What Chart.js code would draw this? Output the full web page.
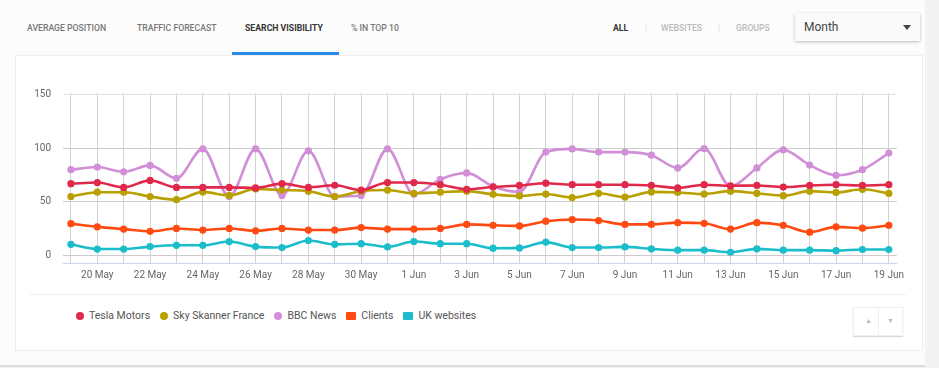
<!DOCTYPE html>
<html lang="en">
<head>
    <meta charset="UTF-8">
    <title>Search Visibility</title>
    <script src="https://cdn.jsdelivr.net/npm/chart.js"></script>
    <style>
        body {
            margin: 0;
            width: 939px;
            height: 368px;
            overflow: hidden;
            font-family: 'Roboto', sans-serif;
            background-color: #f3f3f3;
            position: relative;
        }
        .page {
            position: absolute;
            left: 0; top: 0;
            width: 925px; height: 365px;
            background-color: #fcfcfc;
            border-bottom: 2px solid #dcdcdc;
        }
        .tab {
            position: absolute;
            top: 23px;
            font-size: 8.7px;
            font-weight: 500;
            color: #777;
            white-space: nowrap;
        }
        .tab.active { color: #333; font-weight: 700; }
        .underline {
            position: absolute;
            left: 232px; top: 52px;
            width: 107px; height: 3px;
            background-color: #2a8be6;
        }
        .filter {
            position: absolute;
            top: 23px;
            font-size: 8.7px;
            font-weight: 500;
            color: #bbb;
        }
        .filter.on { color: #333; font-weight: 700; }
        .select {
            position: absolute;
            left: 795px; top: 13px;
            width: 125px; height: 28px;
            background-color: #fafafa;
            box-shadow: 0 1px 3px rgba(0,0,0,0.25);
            font-size: 12px;
            color: #444;
        }
        .select span { position: absolute; left: 9px; top: 7px; }
        .select i {
            position: absolute; right: 9px; top: 12px;
            border-left: 4px solid transparent;
            border-right: 4px solid transparent;
            border-top: 5px solid #444;
        }
        .card {
            position: absolute;
            left: 15px; top: 55px;
            width: 906px; height: 294px;
            background-color: #fff;
            border: 1px solid #eee;
        }
        #chart {
            position: absolute;
            left: 20px; top: 75px;
        }
        .sep {
            position: absolute;
            left: 30px; top: 294px;
            width: 876px; height: 1px;
            background-color: #eee;
        }
        .legend {
            position: absolute;
            left: 76px; top: 309px;
            display: flex;
            align-items: center;
            font-size: 10.5px;
            color: #555;
        }
        .legend .item { display: flex; align-items: center; margin-right: 10px; }
        .legend .mark { width: 8px; height: 8px; border-radius: 50%; margin-right: 5px; }
        .legend .mark.sq { width: 10px; height: 8px; border-radius: 1px; }
        .arrows {
            position: absolute;
            left: 853px; top: 307px;
            width: 48px; height: 27px;
            background-color: #fff;
            border: 1px solid #f0f0f0;
            box-shadow: 0 1px 1px rgba(0,0,0,0.15);
            font-size: 7px;
            color: #bbb;
        }
        .arrows span { position: absolute; top: 9px; }
        .arrows .div { position: absolute; left: 24px; top: 0; width: 1px; height: 27px; background: #f0f0f0; }
    </style>
</head>
<body>
    <div class="page"></div>

    <!-- Tabs -->
    <div class="tab" style="left:27px">AVERAGE POSITION</div>
    <div class="tab" style="left:137px">TRAFFIC FORECAST</div>
    <div class="tab active" style="left:245px">SEARCH VISIBILITY</div>
    <div class="tab" style="left:351px">% IN TOP 10</div>
    <div class="underline"></div>

    <div class="filter on" style="left:613px">ALL</div>
    <div class="filter" style="left:645px;color:#ddd">|</div>
    <div class="filter" style="left:661px">WEBSITES</div>
    <div class="filter" style="left:718px;color:#ddd">|</div>
    <div class="filter" style="left:736px">GROUPS</div>
    <div class="select"><span>Month</span><i></i></div>

    <div class="card"></div>
    <canvas id="chart" width="890" height="213"></canvas>
    <div class="sep"></div>
    <div class="legend" id="legend"></div>
    <div class="arrows"><span style="left:11px">&#9650;</span><div class="div"></div><span style="left:33px">&#9660;</span></div>

    <script>
        // Dates (19 May - 19 Jun)
        const dateLabels = ['19 May', '20 May', '21 May', '22 May', '23 May', '24 May', '25 May', '26 May',
            '27 May', '28 May', '29 May', '30 May', '31 May', '1 Jun', '2 Jun', '3 Jun',
            '4 Jun', '5 Jun', '6 Jun', '7 Jun', '8 Jun', '9 Jun', '10 Jun', '11 Jun',
            '12 Jun', '13 Jun', '14 Jun', '15 Jun', '16 Jun', '17 Jun', '18 Jun', '19 Jun'];

        // Series values
        const teslaMotors = [67, 68, 63.5, 70, 63.5, 63.5, 63.5, 63, 67, 63.5, 65.5, 61, 68, 68, 66, 61.7,
            63.8, 65.3, 67.4, 66, 66, 66, 65.3, 63, 66, 65, 65.3, 63.8, 65.3, 66, 65.3, 66];
        const skySkanner = [55, 59, 59, 55, 52, 59.3, 56, 62, 61, 60, 55, 60, 61, 58, 59, 60,
            57, 55.5, 57.3, 54, 58, 54.5, 59.3, 58.8, 57.3, 60, 58, 55.8, 60, 58.8, 61.7, 57.9];
        const bbcNews = [80, 82.5, 78, 84, 72, 99.4, 55, 99.4, 56, 97.6, 55, 56, 99.4, 57, 71, 77,
            64.4, 59.3, 96.4, 99.4, 96.4, 96.4, 93.5, 81.6, 99.7, 64.7, 81.6, 98.5, 84.3, 74.8, 80, 95.5];
        const clients = [29.7, 26.7, 24.6, 22.5, 25.2, 23.7, 25.2, 23, 25.2, 23.7, 23.7, 26, 24.6, 24.6, 25.2, 29,
            28.2, 27.6, 32, 33.5, 32.6, 29, 29, 30.6, 30, 24.6, 30.6, 28.2, 21.7, 26.7, 25.5, 28.2];
        const ukWebsites = [10.4, 6, 6, 8.3, 9.5, 9.5, 13, 8.3, 7.4, 14, 10.4, 11, 8, 13, 11, 11,
            6.8, 7.1, 12.5, 7.4, 7.4, 8, 6.2, 5, 5, 3, 6.2, 5, 5, 4.5, 5.6, 5.6];

        const seriesNames = ['Tesla Motors', 'Sky Skanner France', 'BBC News', 'Clients', 'UK websites'];
        const yTicks = [0, 50, 100, 150];

        const colors = ['#e0284a', '#b8a000', '#d08fd6', '#ff4a12', '#1bbdcb'];
        const markers = ['circle', 'circle', 'circle', 'rect', 'rect'];
        const allValues = [teslaMotors, skySkanner, bbcNews, clients, ukWebsites];

        const datasets = allValues.map((values, k) => ({
            label: seriesNames[k],
            data: values.map((v, i) => ({ x: i, y: v })),
            borderColor: colors[k],
            backgroundColor: colors[k],
            borderWidth: 2.6,
            pointRadius: 3.6,
            pointBorderWidth: 0,
            cubicInterpolationMode: 'monotone',
            fill: false
        }));

        const chart = new Chart(document.getElementById('chart'), {
            type: 'line',
            data: { datasets: datasets },
            options: {
                responsive: false,
                animation: false,
                layout: { padding: { top: 10, right: 5, left: 0, bottom: 0 } },
                plugins: { legend: { display: false }, tooltip: { enabled: false } },
                scales: {
                    x: {
                        type: 'linear',
                        min: -0.3,
                        max: 31.3,
                        afterBuildTicks: (s) => { s.ticks = dateLabels.map((_, i) => ({ value: i })); },
                        afterFit: (s) => { s.height = 25; },
                        ticks: {
                            autoSkip: false,
                            maxRotation: 0,
                            padding: 6,
                            color: '#666',
                            font: { family: 'Roboto', size: 10 },
                            callback: (v) => (v % 2 === 1 ? dateLabels[v] : '')
                        },
                        grid: { color: '#d2d2d2', drawTicks: false },
                        border: { color: '#ccd6eb' }
                    },
                    y: {
                        min: -7,
                        max: 151.5,
                        afterBuildTicks: (s) => { s.ticks = yTicks.map(v => ({ value: v })); },
                        afterFit: (s) => { s.width = 43; },
                        ticks: {
                            padding: 12,
                            color: '#666',
                            font: { family: 'Roboto', size: 10 }
                        },
                        grid: {
                            color: (c) => (c.tick && c.tick.value === 150 ? '#e4e4e4' : '#cccccc'),
                            drawTicks: false
                        },
                        border: { display: false }
                    }
                }
            }
        });

        // Legend
        const legend = document.getElementById('legend');
        chart.data.datasets.forEach((ds, k) => {
            const item = document.createElement('div');
            item.className = 'item';
            const mark = document.createElement('span');
            mark.className = 'mark' + (markers[k] === 'rect' ? ' sq' : '');
            mark.style.backgroundColor = ds.borderColor;
            const text = document.createElement('span');
            text.innerText = ds.label;
            item.appendChild(mark);
            item.appendChild(text);
            legend.appendChild(item);
        });
    </script>
</body>
</html>
